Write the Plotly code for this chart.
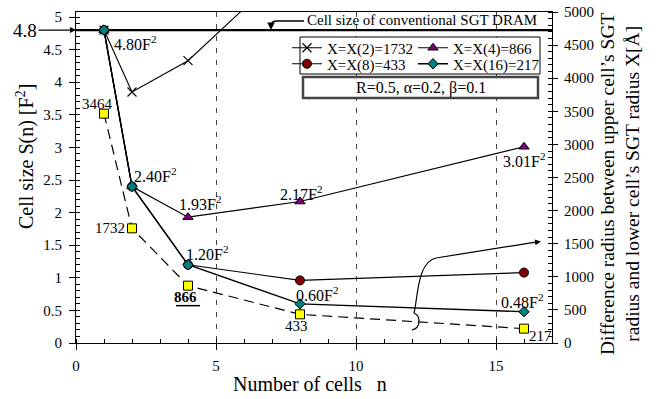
import plotly.graph_objects as go

# ---------------- data ----------------
n_cells = [1, 2, 4, 8, 16]
n_cells_x2 = [1, 2, 4, 8]
size_x2 = [4.80, 3.85, 4.33, 5.93]
size_x4 = [4.80, 2.40, 1.93, 2.17, 3.01]
size_x8 = [4.80, 2.40, 1.20, 0.96, 1.08]
size_x16 = [4.80, 2.40, 1.20, 0.60, 0.48]
radius_diff = [3464, 1732, 866, 433, 217]
conv_cell_size = 4.8
legend_names = ["X=X(2)=1732", "X=X(4)=866", "X=X(8)=433", "X=X(16)=217"]
x_ticks = [0, 5, 10, 15]
y_ticks = [0, 0.5, 1, 1.5, 2, 2.5, 3, 3.5, 4, 4.5, 5]
y2_ticks = [0, 500, 1000, 1500, 2000, 2500, 3000, 3500, 4000, 4500, 5000]
param_text = "R=0.5, \u03b1=0.2, \u03b2=0.1"

# ---------------- geometry ----------------
W, H = 666, 399
L, R, T, B = 76, 552, 12, 343
XMAX, YMAX, Y2MAX = 17, 5.077, 5000
FONT = "Liberation Serif"


def DX(px):
    return (px - L) / (R - L) * XMAX


def DY(py):
    return (B - py) / (B - T) * YMAX


def PXp(px):
    return (px - L) / (R - L)


def PYp(py):
    return (B - py) / (B - T)


fig = go.Figure()

# yellow squares (right axis)
fig.add_trace(go.Scatter(
    x=n_cells, y=radius_diff, yaxis="y2", mode="lines+markers",
    line=dict(color="black", width=1.2, dash="10px,6px"),
    marker=dict(symbol="square", size=9, color="#ffff00",
                line=dict(color="black", width=1)),
    showlegend=False, hoverinfo="skip"))

fig.add_trace(go.Scatter(
    x=n_cells_x2, y=size_x2, mode="lines+markers", name=legend_names[0],
    line=dict(color="black", width=1.1),
    marker=dict(symbol="x-thin", size=9, color="black",
                line=dict(color="black", width=1.1)),
    legend="legend"))
fig.add_trace(go.Scatter(
    x=n_cells, y=size_x4, mode="lines+markers", name=legend_names[1],
    line=dict(color="black", width=1.2),
    marker=dict(symbol="triangle-up", size=9, color="#800080",
                line=dict(color="black", width=1)),
    legend="legend2"))
fig.add_trace(go.Scatter(
    x=n_cells, y=size_x8, mode="lines+markers", name=legend_names[2],
    line=dict(color="black", width=1.2),
    marker=dict(symbol="circle", size=9, color="#800000",
                line=dict(color="black", width=1)),
    legend="legend3"))
fig.add_trace(go.Scatter(
    x=n_cells, y=size_x16, mode="lines+markers", name=legend_names[3],
    line=dict(color="black", width=1.4),
    marker=dict(symbol="diamond", size=8, color="#008080",
                line=dict(color="black", width=1)),
    legend="legend4"))

shapes = []
# conventional cell size line
shapes.append(dict(type="line", xref="x", yref="y", x0=0, x1=XMAX,
                   y0=conv_cell_size, y1=conv_cell_size,
                   line=dict(color="black", width=2.2), layer="between"))
# legend box
shapes.append(dict(type="rect", xref="x", yref="y",
                   x0=DX(300), x1=DX(540), y0=DY(74), y1=DY(37),
                   fillcolor="white", line=dict(color="black", width=1),
                   layer="between"))
# parameter box
shapes.append(dict(type="rect", xref="x", yref="y",
                   x0=DX(303), x1=DX(538), y0=DY(98), y1=DY(77),
                   fillcolor="white", line=dict(color="#444", width=2.5),
                   layer="between"))


def P(px, py):
    return f"{DX(px):.4f},{DY(py):.4f}"


# bent arrow from DRAM label
shapes.append(dict(type="path", xref="x", yref="y",
                   path=f"M{P(304, 21)} L{P(277, 21)} Q{P(271, 21)} {P(271, 26)}",
                   line=dict(color="black", width=1.6), layer="above"))
# curl pointing to right axis
shapes.append(dict(type="path", xref="x", yref="y",
                   path=(f"M{P(412, 330)} C{P(421, 328)} {P(421, 316)} {P(414, 313)} "
                         f"C{P(418, 298)} {P(417, 262)} {P(436, 258)} L{P(534, 242.4)}"),
                   line=dict(color="black", width=1.2), layer="above"))
# underline for 866
shapes.append(dict(type="line", xref="x", yref="y2", xsizemode="pixel",
                   ysizemode="pixel", xanchor=n_cells[2], yanchor=radius_diff[2],
                   x0=-12, x1=12, y0=-20, y1=-20,
                   line=dict(color="black", width=1.5)))

ann = []
# arrowheads
ann.append(dict(xref="x", yref="y", x=DX(271), y=DY(30), ax=0, ay=-6,
                text="", showarrow=True, arrowhead=2, arrowsize=1,
                arrowwidth=1.5, arrowcolor="black"))
ann.append(dict(xref="x", yref="y", x=DX(541), y=DY(241.5), ax=-10, ay=1.5,
                text="", showarrow=True, arrowhead=2, arrowsize=1,
                arrowwidth=1.2, arrowcolor="black"))
# 4.8 arrow label
ann.append(dict(xref="x", yref="y", x=0, y=conv_cell_size, ax=-51, ay=0,
                text="4.8", showarrow=True, arrowhead=2, arrowsize=1,
                arrowwidth=1.2, arrowcolor="black",
                font=dict(size=19, color="black", family=FONT)))
# DRAM label
ann.append(dict(xref="paper", yref="paper", x=PXp(305), y=PYp(20),
                xanchor="left", yanchor="middle", showarrow=False,
                text="Cell size of conventional SGT DRAM",
                font=dict(size=15, color="black", family=FONT)))
# parameter text
ann.append(dict(xref="paper", yref="paper", x=PXp(420.5), y=PYp(87.5),
                xanchor="center", yanchor="middle", showarrow=False,
                text=param_text, font=dict(size=16, color="black", family=FONT)))


def flab(xv, yv, dx, dy, txt, size=16, yref="y"):
    ann.append(dict(xref="x", yref=yref, x=xv, y=yv, xshift=dx, yshift=dy,
                    text=txt, showarrow=False, xanchor="center", yanchor="middle",
                    font=dict(size=size, color="black", family=FONT)))


def F2(v):
    return f"{v:.2f}F<sup>2</sup>"


flab(n_cells[0], size_x16[0], 31, -13, F2(size_x16[0]))
flab(n_cells[1], size_x16[1], 23, 11.5, F2(size_x16[1]))
flab(n_cells[2], size_x4[2], 12, 14, F2(size_x4[2]))
flab(n_cells[3], size_x4[3], 1, 8.5, F2(size_x4[3]))
flab(n_cells[4], size_x4[4], 0, -13, F2(size_x4[4]))
flab(n_cells[2], size_x16[2], 19, 12, F2(size_x16[2]))
flab(n_cells[3], size_x16[3], 17, 10, F2(size_x16[3]))
flab(n_cells[4], size_x16[4], -2, 11, F2(size_x16[4]))

flab(n_cells[0], radius_diff[0], -7, 10, str(radius_diff[0]), 15, "y2")
flab(n_cells[1], radius_diff[1], -22, 0, str(radius_diff[1]), 15, "y2")
flab(n_cells[2], radius_diff[2], -3, -11, f"<b>{radius_diff[2]}</b>", 15, "y2")
flab(n_cells[3], radius_diff[3], -4, -12, str(radius_diff[3]), 15, "y2")
flab(n_cells[4], radius_diff[4], 16, -7, str(radius_diff[4]), 15, "y2")

# axis titles
ann.append(dict(xref="paper", yref="paper", x=PXp(310), y=PYp(384),
                xanchor="center", yanchor="middle", showarrow=False,
                text="Number of cells\u00a0\u00a0\u00a0n",
                font=dict(size=20, color="black", family=FONT)))
ann.append(dict(xref="paper", yref="paper", x=PXp(25), y=PYp(157),
                xanchor="center", yanchor="middle", showarrow=False, textangle=-90,
                text="Cell size S(n) [F<sup>2</sup>]",
                font=dict(size=20, color="black", family=FONT)))
ann.append(dict(xref="paper", yref="paper", x=PXp(620), y=PYp(184),
                xanchor="center", yanchor="middle", showarrow=False, textangle=-90,
                text=("Difference radius between upper cell\u2019s SGT<br>"
                      "radius and lower cell\u2019s SGT radius X[\u00c5]"),
                font=dict(size=19.5, color="black", family=FONT)))


def leg(px, py):
    return dict(x=PXp(px), y=PYp(py), xanchor="left", yanchor="middle",
                bgcolor="rgba(0,0,0,0)", borderwidth=0, itemwidth=30,
                font=dict(size=15, color="black", family=FONT))


fig.update_layout(
    width=W, height=H,
    margin=dict(l=L, r=W - R, t=T, b=H - B, pad=0, autoexpand=False),
    paper_bgcolor="white", plot_bgcolor="white",
    font=dict(family=FONT, size=15, color="black"),
    showlegend=True,
    legend=leg(287, 48), legend2=leg(413, 48),
    legend3=leg(287, 64), legend4=leg(413, 64),
    xaxis=dict(range=[0, XMAX], tickvals=x_ticks, ticks="outside", ticklen=6,
               tickcolor="black", showline=True, linecolor="black", linewidth=1,
               mirror=True, showgrid=True, gridcolor="#444", gridwidth=1,
               griddash="5px,7px", zeroline=False, ticklabelstandoff=3,
               automargin=False,
               tickfont=dict(size=15, color="black", family=FONT),
               minor=dict(tick0=0, dtick=1, ticks="inside", ticklen=4,
                          tickcolor="black", showgrid=False)),
    yaxis=dict(range=[0, YMAX], tickvals=y_ticks, ticks="outside", ticklen=6,
               tickcolor="black", showline=True, linecolor="black", linewidth=1,
               showgrid=False, zeroline=False, ticklabelstandoff=4,
               automargin=False,
               tickfont=dict(size=15, color="black", family=FONT),
               minor=dict(tick0=0, dtick=0.1, ticks="inside", ticklen=4,
                          tickcolor="black", showgrid=False)),
    yaxis2=dict(range=[0, Y2MAX], overlaying="y", side="right", tickvals=y2_ticks,
                ticks="outside", ticklen=5, tickcolor="black", showline=True,
                linecolor="black", linewidth=1, showgrid=False, zeroline=False,
                ticklabelstandoff=3, automargin=False,
                tickfont=dict(size=15, color="black", family=FONT),
                minor=dict(tick0=0, dtick=100, ticks="inside", ticklen=4,
                           tickcolor="black", showgrid=False)),
    shapes=shapes, annotations=ann,
)

fig.write_html("out.html", config={"displayModeBar": False},
               post_script="document.body.style.margin='0';document.body.style.padding='0';")
